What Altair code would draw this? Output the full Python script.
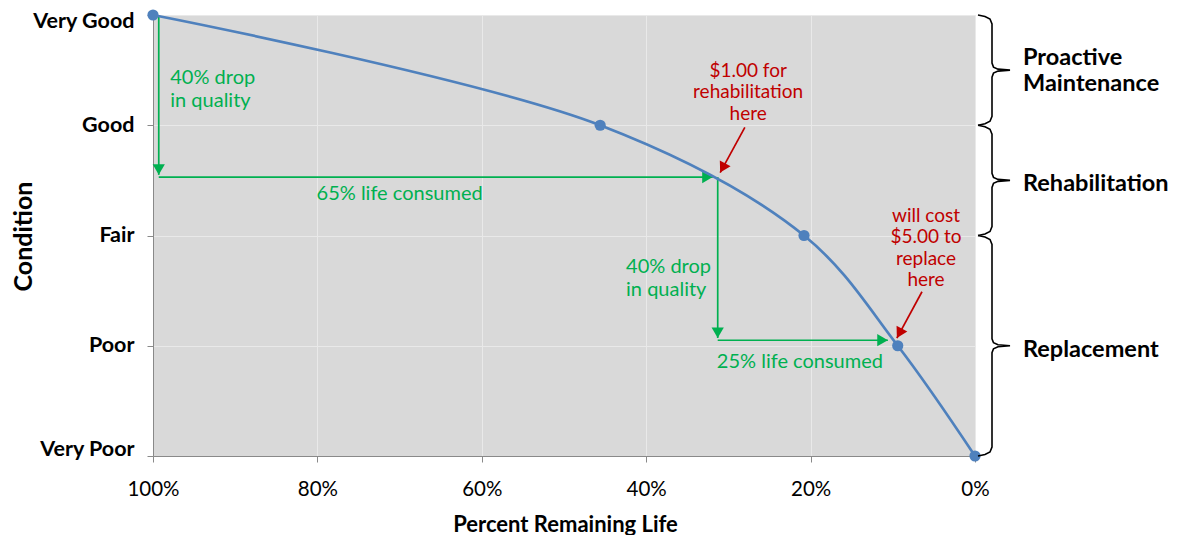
import altair as alt
import pandas as pd

# ---------------- data ----------------
levels = ["Very Poor", "Poor", "Fair", "Good", "Very Good"]
level_values = [0, 1, 2, 3, 4]

curve_life = [100, 45.6, 20.8, 9.4, 0]
curve_cond = [4, 3, 2, 1, 0]

x_ticks = [0, 20, 40, 60, 80, 100]

# green arrows: start -> tip
g_x1 = [99.3, 99.3, 31.3, 31.3]
g_y1 = [4.0, 2.53, 2.53, 1.05]
g_x2 = [99.3, 31.9, 31.3, 10.6]
g_y2 = [2.55, 2.53, 1.07, 1.05]
g_dir = ["down", "right", "down", "right"]

# red arrows: start -> tip
r_x1 = [28.0, 6.45]
r_y1 = [2.98, 1.49]
r_x2 = [31.0, 9.5]
r_y2 = [2.57, 1.07]

# annotation texts (y = first line)
green_texts = ["40% drop\nin quality", "65% life consumed", "40% drop\nin quality", "25% life consumed"]
green_tx = [97.9, 70.0, 42.45, 21.3]
green_ty = [3.43, 2.38, 1.714, 0.855]
green_align = ["left", "center", "left", "center"]

red_texts = ["$1.00 for\nrehabilitation\nhere", "will cost\n$5.00 to\nreplace\nhere"]
red_tx = [27.6, 5.96]
red_ty = [3.495, 2.18]

sections = ["Proactive\nMaintenance", "Rehabilitation", "Replacement"]
section_top = [4, 3, 2]
section_bottom = [3, 2, 0]
section_label_y = [3.61, 2.47, 0.96]

# ---------------- styling ----------------
W, H = 822, 441
PX_X = 100 / W   # percent per pixel
PX_Y = 4 / H     # condition units per pixel
FONT = "Lato"
BLUE = "#4f81bd"
GREEN = "#00b050"
RED = "#c00000"
GRID = "#e9e9e9"
AXISC = "#898989"

xscale = alt.Scale(domain=[100, 0], nice=False, zero=False)
yscale = alt.Scale(domain=[0, 4], nice=False, zero=False)

label_expr = "[" + ",".join("'" + l + "'" for l in levels) + "][datum.value]"

xaxis = alt.Axis(values=x_ticks, labelExpr="datum.value + '%'", title="Percent Remaining Life",
                 grid=True, gridColor=GRID, gridWidth=1, domainColor=AXISC, tickColor=AXISC,
                 tickSize=6, labelFontSize=20.5, labelPadding=17, labelFont=FONT, labelColor="#000",
                 labelFlush=False, labelOverlap=False,
                 titleFont=FONT, titleFontSize=22, titleFontWeight="bold", titleColor="#000",
                 titleX=412, titleY=68, titleBaseline="middle")
yaxis = alt.Axis(values=level_values, labelExpr=label_expr, title="Condition",
                 grid=True, gridColor=GRID, gridWidth=1, domainColor=AXISC, tickColor=AXISC,
                 tickSize=6, labelFontSize=21.5, labelFontWeight="bold", labelPadding=13,
                 labelOffset={"condition": [{"test": "datum.value == 4", "value": 6},
                                            {"test": "datum.value == 0", "value": -7}],
                              "value": 0},
                 labelFont=FONT, labelColor="#000", labelFlush=False, labelOverlap=False,
                 titleFont=FONT, titleFontSize=25, titleFontWeight="bold", titleColor="#000",
                 titleX=-130, titleY=221, titleAngle=-90, titleBaseline="middle", titleAlign="center")


def X(f):
    return alt.X(f, type="quantitative", scale=xscale, axis=xaxis)


def Y(f):
    return alt.Y(f, type="quantitative", scale=yscale, axis=yaxis)


curve_df = pd.DataFrame({"x": curve_life, "y": curve_cond})
curve = alt.Chart(curve_df).mark_line(color=BLUE, strokeWidth=2.7, interpolate="catmull-rom").encode(x=X("x"), y=Y("y"))
points = alt.Chart(curve_df).mark_circle(color=BLUE, size=125, opacity=1).encode(x=X("x"), y=Y("y"))

g_df = pd.DataFrame({"x": g_x1, "y": g_y1, "x2": g_x2, "y2": g_y2, "dir": g_dir})
g_rules = alt.Chart(g_df).mark_rule(color=GREEN, strokeWidth=1.7).encode(
    x=X("x"), y=Y("y"), x2="x2", y2="y2")
g_down = alt.Chart(g_df).transform_filter("datum.dir == 'down'").mark_point(
    shape="triangle-down", filled=True, color=GREEN, size=150, opacity=1, yOffset=-5.3).encode(
    x=X("x2"), y=Y("y2"))
g_right = alt.Chart(g_df).transform_filter("datum.dir == 'right'").mark_point(
    shape="triangle-right", filled=True, color=GREEN, size=150, opacity=1, xOffset=-5.3).encode(
    x=X("x2"), y=Y("y2"))

r_df = pd.DataFrame({"x": r_x1, "y": r_y1, "x2": r_x2, "y2": r_y2})
r_rules = alt.Chart(r_df).mark_rule(color=RED, strokeWidth=1.7).encode(
    x=X("x"), y=Y("y"), x2="x2", y2="y2")
r_heads = alt.Chart(r_df).mark_point(
    shape="triangle-up", filled=True, color=RED, size=150, opacity=1, angle=208.5,
    xOffset=2.5, yOffset=-4.7).encode(x=X("x2"), y=Y("y2"))

gt_df = pd.DataFrame({"t": green_texts, "x": green_tx, "y": green_ty, "a": green_align})
gt_left = alt.Chart(gt_df).transform_filter("datum.a == 'left'").mark_text(
    color=GREEN, font=FONT, fontSize=20, align="left", baseline="middle", lineBreak="\n", lineHeight=23).encode(
    x=X("x"), y=Y("y"), text="t:N")
gt_center = alt.Chart(gt_df).transform_filter("datum.a == 'center'").mark_text(
    color=GREEN, font=FONT, fontSize=20, align="center", baseline="middle", lineBreak="\n", lineHeight=23).encode(
    x=X("x"), y=Y("y"), text="t:N")

rt_df = pd.DataFrame({"t": red_texts, "x": red_tx, "y": red_ty})
rt = alt.Chart(rt_df).mark_text(
    color=RED, font=FONT, fontSize=19, align="center", baseline="middle", lineBreak="\n", lineHeight=21.5).encode(
    x=X("x"), y=Y("y"), text="t:N")

# curly braces built from section bounds
brace_rows = []
for k, (ya, yb) in enumerate(zip(section_top, section_bottom)):
    ym = (ya + yb) / 2
    pts = [(3, ya), (10, ya - 1.5 * PX_Y), (15, ya - 4 * PX_Y), (17, ya - 9 * PX_Y),
           (17, ym + 7 * PX_Y), (18.5, ym + 3 * PX_Y), (23, ym + 1 * PX_Y), (35, ym),
           (23, ym - 1 * PX_Y), (18.5, ym - 3 * PX_Y), (17, ym - 7 * PX_Y),
           (17, yb + 9 * PX_Y), (15, yb + 4 * PX_Y), (10, yb + 1.5 * PX_Y), (3, yb)]
    for i, (dx, yv) in enumerate(pts):
        brace_rows.append({"b": k, "i": i, "x": -dx * PX_X, "y": yv})
brace_df = pd.DataFrame(brace_rows)
braces = alt.Chart(brace_df).mark_line(color="#000", strokeWidth=1.6).encode(
    x=X("x"), y=Y("y"), detail="b:N", order="i:Q")

sec_df = pd.DataFrame({"t": sections, "y": section_label_y, "x": [-48 * PX_X] * 3})
sec = alt.Chart(sec_df).mark_text(
    color="#000", font=FONT, fontSize=23.5, fontWeight="bold", align="left", baseline="middle",
    lineBreak="\n", lineHeight=26).encode(x=X("x"), y=Y("y"), text="t:N")

chart = alt.layer(
    g_rules, g_down, g_right, curve, points, r_rules, r_heads, gt_left, gt_center, rt, braces, sec
).properties(
    width=W, height=H,
    autosize=alt.AutoSizeParams(type="none"),
    padding={"left": 145, "top": 7, "right": 196, "bottom": 80},
).configure_view(fill="#d9d9d9", stroke="transparent")

chart.save("out.html", embed_options={"renderer": "svg", "actions": False})
